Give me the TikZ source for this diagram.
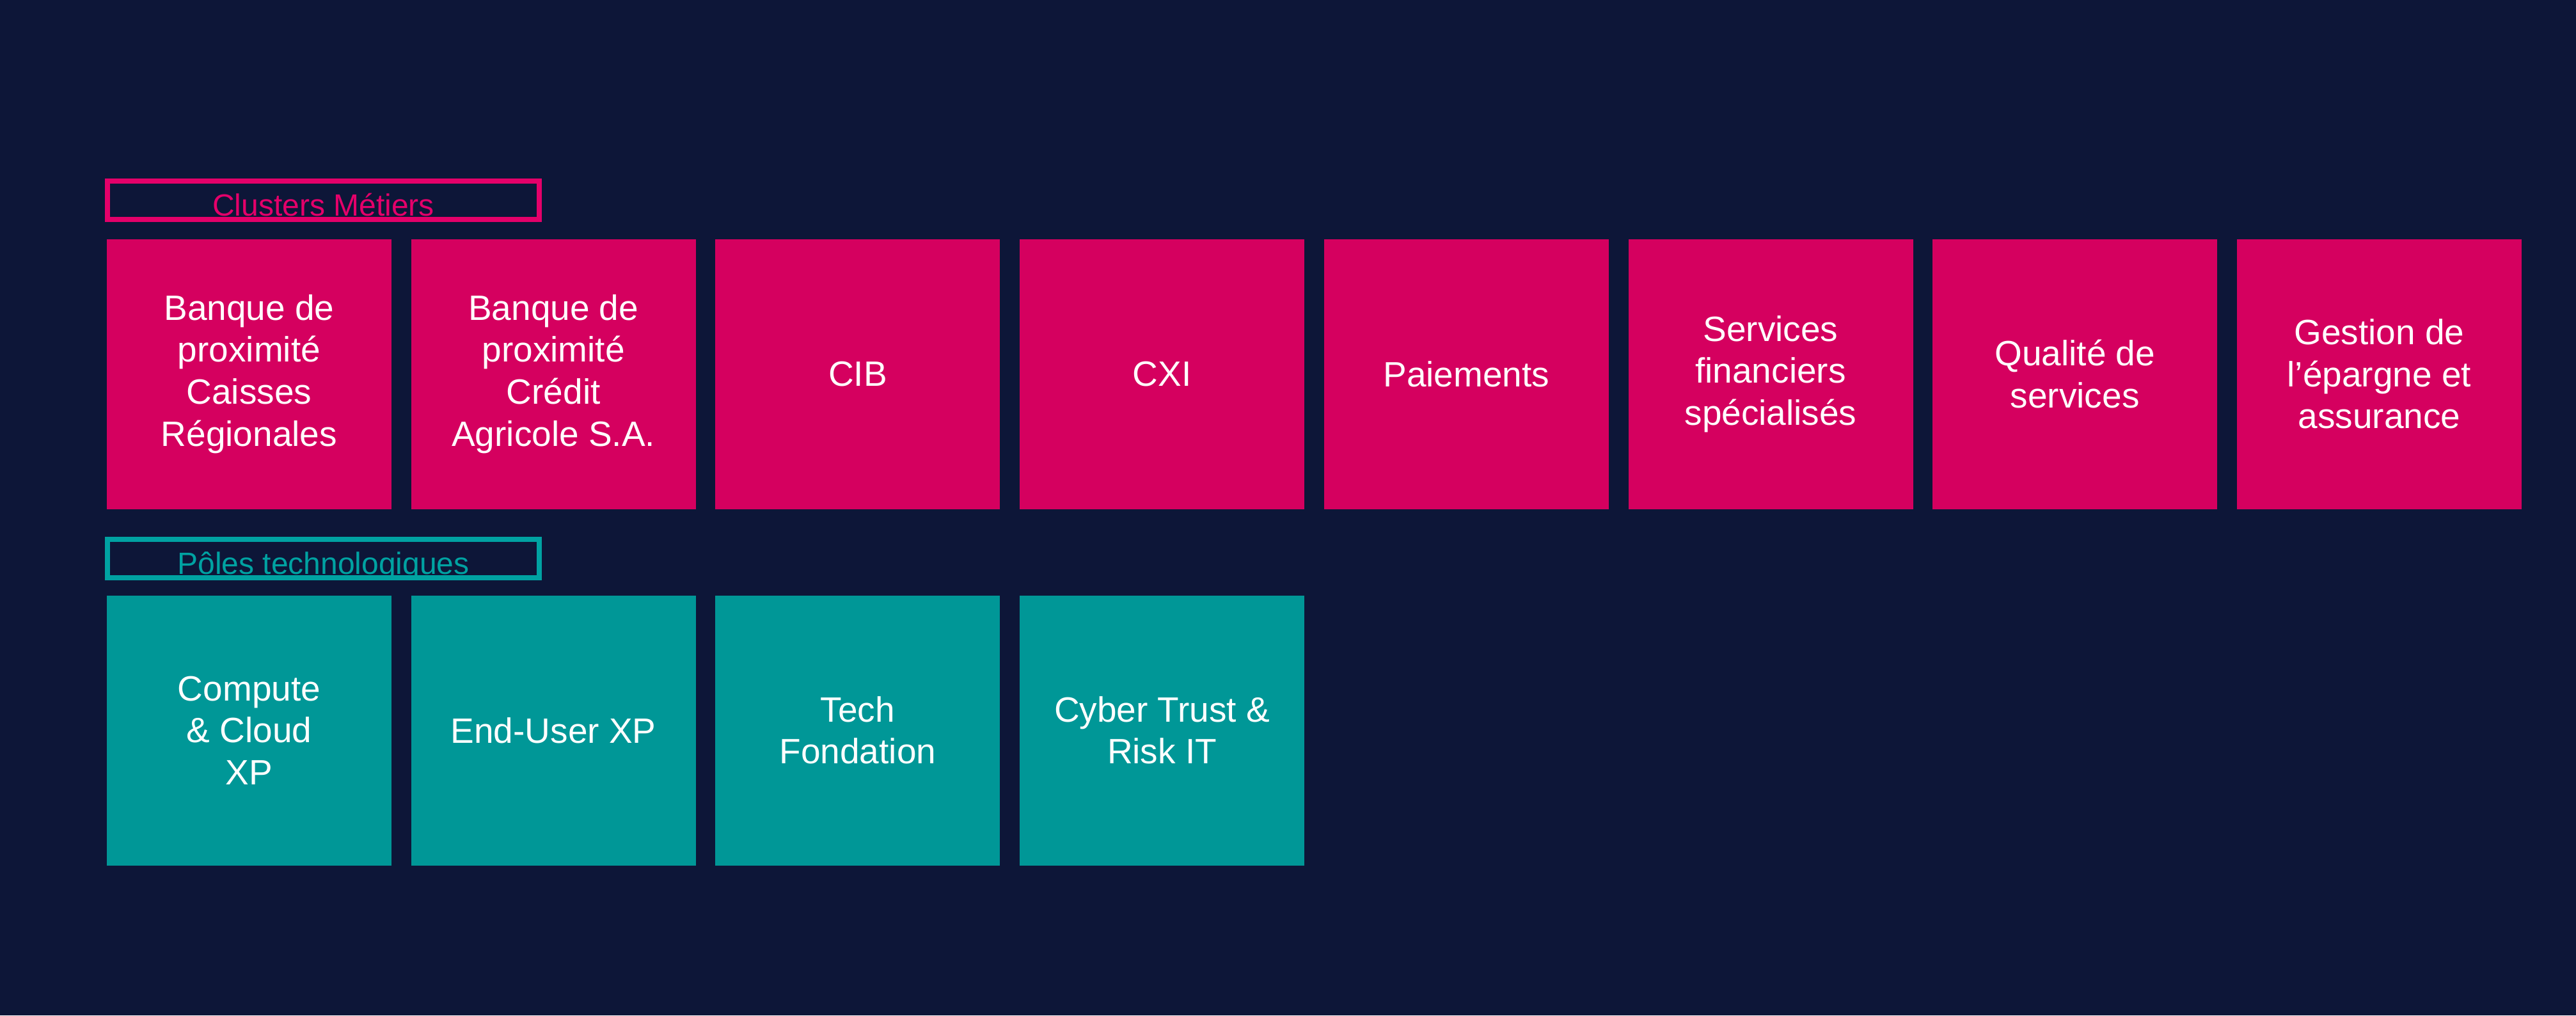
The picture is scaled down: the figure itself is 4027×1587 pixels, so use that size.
\documentclass[tikz,border=0pt]{standalone}
\usepackage{fontspec}
\setmainfont{Liberation Sans}
\definecolor{bgnavy}{HTML}{0D1638}
\definecolor{pinkfill}{HTML}{D5005F}
\definecolor{pinkline}{HTML}{E4006A}
\definecolor{tealfill}{HTML}{009797}
\definecolor{tealline}{HTML}{00A2A2}
\begin{document}
\begin{tikzpicture}[x=0.25pt,y=-0.25pt,
  tile/.style={inner sep=0pt, minimum width=111.25pt, minimum height=105.5pt,
    text=white, align=center, font=\fontsize{13.75pt}{16.4pt}\selectfont},
  pinktile/.style={tile, fill=pinkfill},
  tealtile/.style={tile, fill=tealfill},
  frame/.style={draw, line width=2pt, inner sep=0pt, minimum width=168.75pt,
    minimum height=15pt, text height=12pt, text depth=0pt,
    font=\fontsize{12pt}{14pt}\selectfont}]
\fill[bgnavy] (0,0) rectangle (4027,1587);
\useasboundingbox (0,0) rectangle (4027,1587);

\node[frame, draw=pinkline, text=pinkline] (lab1) at (505.5,313) {Clusters Métiers};
\node[frame, draw=tealline, text=tealline] (lab2) at (505.5,873) {Pôles technologiques};

\node[pinktile] (m1) at (389.5,584.5) {Banque de\\proximité\\Caisses\\Régionales};
\node[pinktile] (m2) at (865.2,584.5) {Banque de\\proximité\\Crédit\\Agricole S.A.};
\node[pinktile] (m3) at (1340.9,584.5) {CIB};
\node[pinktile] (m4) at (1816.6,584.5) {CXI};
\node[pinktile] (m5) at (2292.3,584.5) {Paiements};
\node[pinktile] (m6) at (2768.0,584.5) {Services\\financiers\\spécialisés};
\node[pinktile] (m7) at (3243.7,584.5) {Qualité de\\services};
\node[pinktile] (m8) at (3719.4,584.5) {Gestion de\\l’épargne et\\assurance};

\node[tealtile] (t1) at (389.5,1141.5) {Compute\\\& Cloud\\XP};
\node[tealtile] (t2) at (865.2,1141.5) {End-User XP};
\node[tealtile] (t3) at (1340.9,1141.5) {Tech\\Fondation};
\node[tealtile] (t4) at (1816.6,1141.5) {Cyber Trust \&\\Risk IT};
\end{tikzpicture}
\end{document}
